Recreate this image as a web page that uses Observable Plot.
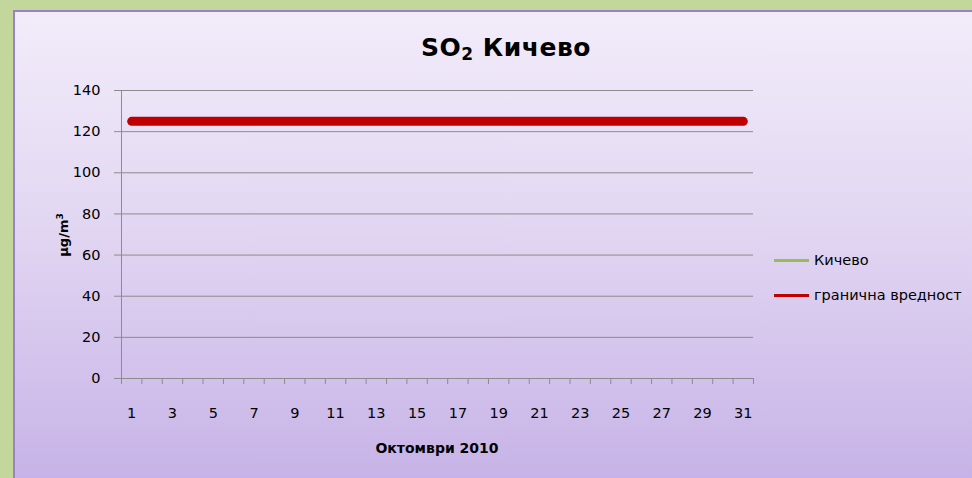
<!DOCTYPE html>
<html>
<head>
<meta charset="utf-8">
<script src="https://cdn.jsdelivr.net/npm/d3@7"></script>
<script src="https://cdn.jsdelivr.net/npm/@observablehq/plot@0.6"></script>
<style>
  html, body { margin: 0; padding: 0; }
  body { width: 972px; height: 478px; overflow: hidden; font-family: "DejaVu Sans", sans-serif; }
  #page { position: relative; width: 972px; height: 478px; background: #c3d69b; }
  #inner { position: absolute; left: 13px; top: 10px; right: 0; bottom: 0;
           border-left: 2px solid #9b82c2; border-top: 2px solid #9b82c2;
           background: linear-gradient(to bottom, #f2ecfa 0%, #e2d7f2 45%, #c7b3e7 100%); }
  #chart { position: absolute; left: 0; top: 0; }
  .txt { position: absolute; color: #000; white-space: nowrap; }
  #title { left: 506px; top: 48px; transform: translate(-50%, -50%); font-size: 25px; font-weight: bold; letter-spacing: 0.5px; }
  #ylab { left: 63px; top: 235px; transform: translate(-50%, -50%) rotate(-90deg); font-size: 13px; font-weight: bold; }
  #xlab { left: 437px; top: 448px; transform: translate(-50%, -50%); font-size: 14px; font-weight: bold; }
  .leg { position: absolute; font-size: 14.5px; }
  .leg .sw { position: absolute; left: 0; top: -1.5px; width: 35px; height: 3px; }
  .leg .lt { position: absolute; left: 40px; top: 0; transform: translateY(-50%); white-space: nowrap; }
</style>
</head>
<body>
<div id="page">
  <div id="inner"></div>
  <div id="chart"></div>
  <div class="txt" id="title">SO<sub style="font-size:17px;vertical-align:-4px">2</sub> Кичево</div>
  <div class="txt" id="ylab">µg/m<sup style="font-size:9px">3</sup></div>
  <div class="txt" id="xlab">Октомври 2010</div>
  <div id="legend"></div>
</div>
<script>
const days = [1,2,3,4,5,6,7,8,9,10,11,12,13,14,15,16,17,18,19,20,21,22,23,24,25,26,27,28,29,30,31];
const kichevo = []; // no measurements shown
const limitValues = [125,125,125,125,125,125,125,125,125,125,125,125,125,125,125,125,125,125,125,125,125,125,125,125,125,125,125,125,125,125,125];
const yTicks = [0,20,40,60,80,100,120,140];
const xTickLabels = [1,3,5,7,9,11,13,15,17,19,21,23,25,27,29,31];
const seriesNames = ["Кичево", "гранична вредност"];
const seriesColors = ["#9bbb59", "#c00000"];

const limitData = days.map((d, i) => ({day: d, value: limitValues[i]}));
const kichevoData = kichevo.map((v, i) => ({day: days[i], value: v}));
const boundaries = [days[0] - 0.5, ...days.map(d => d + 0.5)];
const gray = "#8c8c8c";

const chart = Plot.plot({
  width: 972,
  height: 478,
  marginLeft: 121,
  marginRight: 219,
  marginTop: 90,
  marginBottom: 100,
  style: {background: "transparent", fontFamily: "DejaVu Sans, sans-serif", fontSize: "14px", color: "#000"},
  x: {type: "linear", domain: [boundaries[0], boundaries[boundaries.length - 1]]},
  y: {domain: [0, 140]},
  marks: [
    Plot.gridY(yTicks, {stroke: gray, strokeOpacity: 1, strokeWidth: 1}),
    Plot.ruleX([boundaries[0]], {stroke: gray, strokeWidth: 1}),
    Plot.ruleY([0], {stroke: gray, strokeWidth: 1}),
    Plot.axisY({ticks: yTicks, tickSize: 7, tickPadding: 14, stroke: gray, label: null, fontSize: 14.5}),
    Plot.axisX({ticks: boundaries, tickSize: 6, tickFormat: () => "", stroke: gray, label: null}),
    Plot.axisX({ticks: xTickLabels, tickSize: 0, tickPadding: 29, label: null, fontSize: 14.5}),
    Plot.lineY(kichevoData, {x: "day", y: "value", stroke: seriesColors[0], strokeWidth: 3}),
    Plot.lineY(limitData, {x: "day", y: "value", stroke: seriesColors[1], strokeWidth: 9, strokeLinecap: "round"})
  ]
});
document.getElementById("chart").appendChild(chart);

const legend = document.getElementById("legend");
seriesNames.forEach((name, i) => {
  const item = document.createElement("div");
  item.className = "leg";
  item.style.left = "774px";
  item.style.top = (260 + i * 35) + "px";
  item.innerHTML = `<div class="sw" style="background:${seriesColors[i]}"></div><div class="lt">${name}</div>`;
  legend.appendChild(item);
});
</script>
</body>
</html>
